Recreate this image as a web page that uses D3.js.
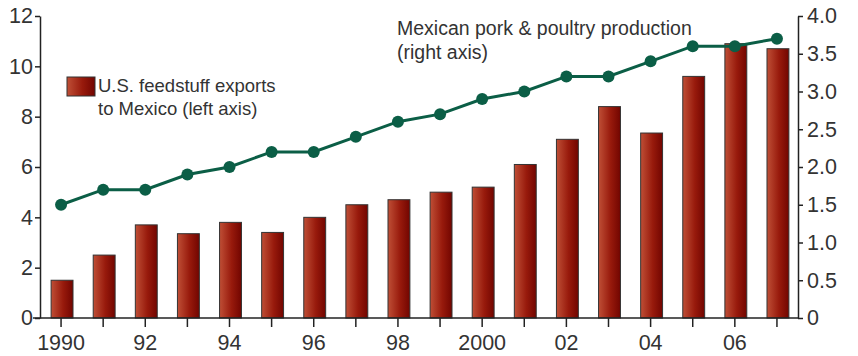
<!DOCTYPE html>
<html>
<head>
<meta charset="utf-8">
<script src="https://cdn.jsdelivr.net/npm/d3@7"></script>
<style>
  body { margin: 0; background: #fff; }
  text { font-family: "Liberation Sans", Arial, sans-serif; fill: #333; }
</style>
</head>
<body>
<div id="chart"></div>
<script>
// data
var years = [1990, 1991, 1992, 1993, 1994, 1995, 1996, 1997, 1998, 1999,
             2000, 2001, 2002, 2003, 2004, 2005, 2006, 2007];
var feedExports = [1.5, 2.5, 3.7, 3.35, 3.8, 3.4, 4.0, 4.5, 4.7, 5.0,
                   5.2, 6.1, 7.1, 8.4, 7.35, 9.6, 10.9, 10.7];
var porkPoultry = [1.5, 1.7, 1.7, 1.9, 2.0, 2.2, 2.2, 2.4, 2.6, 2.7,
                   2.9, 3.0, 3.2, 3.2, 3.4, 3.6, 3.6, 3.7];
var leftTicks = [0, 2, 4, 6, 8, 10, 12];
var rightTicks = [0, 0.5, 1, 1.5, 2, 2.5, 3, 3.5, 4];
var yearLabels = {1990: "1990", 1992: "92", 1994: "94", 1996: "96", 1998: "98",
                  2000: "2000", 2002: "02", 2004: "04", 2006: "06"};

var W = 858, H = 356;
margin = {top: 16, right: 60, bottom: 38, left: 40};
var width = W - margin.left - margin.right,
    height = H - margin.top - margin.bottom;

var svg = d3.select("#chart").append("svg")
  .attr("width", W)
  .attr("height", H);

var defs = svg.append("defs");
var grad = defs.append("linearGradient")
  .attr("id", "barGrad")
  .attr("x1", "0%").attr("x2", "100%").attr("y1", "0%").attr("y2", "0%");
grad.append("stop").attr("offset", "0%").attr("stop-color", "#bf4f36");
grad.append("stop").attr("offset", "55%").attr("stop-color", "#981a0c");
grad.append("stop").attr("offset", "100%").attr("stop-color", "#720500");

var g = svg.append("g")
  .attr("transform", "translate(" + margin.left + "," + margin.top + ")");

var x = d3.scaleBand()
  .domain(years)
  .range([0, width])
  .paddingInner(0.48)
  .paddingOuter(0.24);

var yL = d3.scaleLinear().domain([0, 12]).range([height, 0]);
var yR = d3.scaleLinear().domain([0, 4]).range([height, 0]);

// bars
g.selectAll(".bar")
  .data(years)
  .enter().append("rect")
  .attr("class", "bar")
  .attr("x", function(d) { return x(d) + 1; })
  .attr("width", x.bandwidth())
  .attr("y", function(d, i) { return yL(feedExports[i]); })
  .attr("height", function(d, i) { return height - yL(feedExports[i]); })
  .attr("fill", "url(#barGrad)")
  .attr("stroke", "#333")
  .attr("stroke-width", 1);

// axes
function styleAxis(sel) {
  sel.selectAll("path, line").attr("stroke", "#222").attr("stroke-width", 1.5);
  sel.selectAll("text")
    .style("font-size", "21.5px")
    .style("fill", "#333");
}

var xAxis = g.append("g")
  .attr("transform", "translate(0," + height + ")")
  .call(d3.axisBottom(x)
    .tickSize(9)
    .tickSizeOuter(0)
    .tickPadding(8)
    .tickFormat(function(d) { return yearLabels[d] || ""; }));
styleAxis(xAxis);
xAxis.select(".domain").attr("d", "M-7,0H" + width);

var leftAxis = g.append("g")
  .call(d3.axisLeft(yL)
    .tickValues(leftTicks)
    .tickSize(5)
    .tickSizeOuter(0)
    .tickPadding(2)
    .tickFormat(d3.format("d")));
styleAxis(leftAxis);

var rightAxis = g.append("g")
  .attr("transform", "translate(" + width + ",0)")
  .call(d3.axisRight(yR)
    .tickValues(rightTicks)
    .tickSize(5)
    .tickSizeOuter(0)
    .tickPadding(4)
    .tickFormat(function(d) { return d === 0 ? "0" : d3.format(".1f")(d); }));
styleAxis(rightAxis);

// line
var line = d3.line()
  .x(function(d, i) { return x(years[i]) + x.bandwidth() / 2; })
  .y(function(d) { return yR(d); });

g.append("path")
  .datum(porkPoultry)
  .attr("fill", "none")
  .attr("stroke", "#0b5e46")
  .attr("stroke-width", 3)
  .attr("d", line);

g.selectAll(".dot")
  .data(porkPoultry)
  .enter().append("circle")
  .attr("class", "dot")
  .attr("cx", function(d, i) { return x(years[i]) + x.bandwidth() / 2; })
  .attr("cy", function(d) { return yR(d); })
  .attr("r", 6)
  .attr("fill", "#0b5e46");

// legend for bars
svg.append("rect")
  .attr("x", 67).attr("y", 77)
  .attr("width", 28).attr("height", 19)
  .attr("fill", "url(#barGrad)")
  .attr("stroke", "#333");

var legText = svg.append("text")
  .attr("x", 98).attr("y", 92)
  .style("font-size", "18.5px");
legText.append("tspan").attr("x", 98).text("U.S. feedstuff exports");
legText.append("tspan").attr("x", 98).attr("dy", 23).text("to Mexico (left axis)");

// label for line
var lineText = svg.append("text")
  .attr("x", 397).attr("y", 35)
  .style("font-size", "19.5px");
lineText.append("tspan").attr("x", 397).text("Mexican pork & poultry production");
lineText.append("tspan").attr("x", 397).attr("dy", 24).text("(right axis)");
</script>
</body>
</html>
